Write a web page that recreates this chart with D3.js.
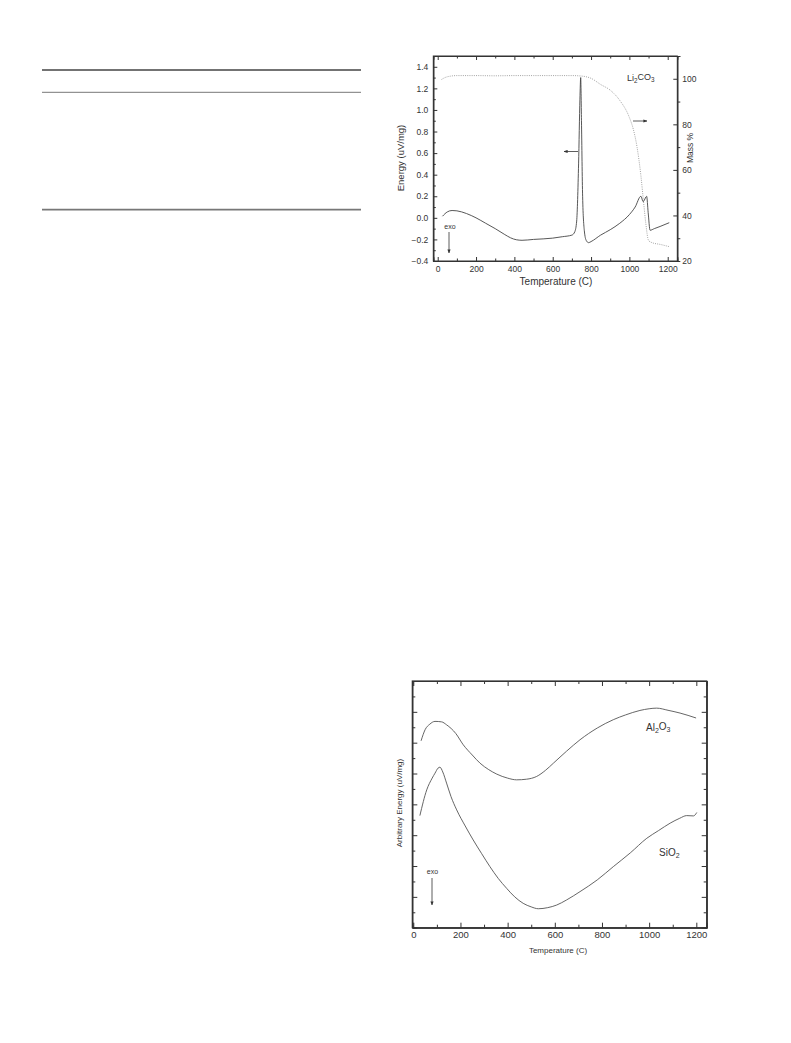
<!DOCTYPE html>
<html><head><meta charset="utf-8">
<script src="https://cdn.jsdelivr.net/npm/d3@7"></script>
<style>body{margin:0;background:#fff}svg{display:block}text{font-family:"Liberation Sans",Arial,sans-serif}</style>
</head><body>
<svg id="c" width="791" height="1043"></svg>
<script>
// ---- Top chart data (Li2CO3) ----
const energyT = [25,50,75,100,150,200,250,300,350,380,410,440,470,500,550,600,650,700,715,725,735,742,746,750,756,765,775,787,800,850,900,950,1000,1030,1060,1072,1090,1098,1108,1130,1160,1208];
const energyV = [0.015,0.055,0.068,0.065,0.04,0.0,-0.05,-0.1,-0.155,-0.185,-0.203,-0.208,-0.205,-0.2,-0.195,-0.188,-0.175,-0.16,-0.13,-0.03,0.5,1.1,1.3,0.9,0.2,-0.12,-0.21,-0.23,-0.22,-0.16,-0.11,-0.05,0.03,0.1,0.2,0.15,0.2,0.05,-0.115,-0.1,-0.08,-0.045];
const massT = [20,40,70,100,200,300,400,500,600,700,750,800,850,900,950,1000,1020,1040,1060,1075,1085,1100,1120,1160,1208];
const massV = [99.7,100.6,101.2,101.4,101.4,101.3,101.4,101.4,101.4,101.4,101.2,100.2,97.5,95,90.5,83,78,70,57.5,45,37,29,28,27.3,26.3];
const topXTicks = [0,200,400,600,800,1000,1200];
const topYTicks = [-0.4,-0.2,0.0,0.2,0.4,0.6,0.8,1.0,1.2,1.4];
const topY2Ticks = [20,40,60,80,100];

// ---- Bottom chart data ----
const alT = [33,50,70,92,120,141,180,212,250,283,320,354,400,438,480,523,560,594,650,707,780,848,900,961,1000,1032,1080,1131,1199];
const alV = [12.12,12.84,13.2,13.38,13.35,13.16,12.6,11.86,11.2,10.67,10.25,9.96,9.7,9.59,9.63,9.81,10.2,10.67,11.45,12.19,12.95,13.49,13.8,14.09,14.2,14.24,14.1,13.92,13.6];
const siT = [28,57,80,92,105,113,125,141,160,184,220,254,290,325,360,396,430,466,500,530,570,608,650,707,780,848,920,990,1040,1089,1130,1159,1188,1202];
const siV = [7.27,8.94,9.7,10.02,10.35,10.41,10.1,9.38,8.5,7.64,6.6,5.69,4.8,3.96,3.2,2.55,2.0,1.58,1.35,1.23,1.3,1.47,1.8,2.34,3.1,3.96,4.85,5.8,6.3,6.78,7.1,7.27,7.25,7.47];
const botXTicks = [0,200,400,600,800,1000,1200];

const svg = d3.select("#c");

// ---- table rules top-left ----
svg.append("line").attr("x1",42).attr("x2",361).attr("y1",70).attr("y2",70).attr("stroke","#444").attr("stroke-width",1.3);
svg.append("line").attr("x1",42).attr("x2",361).attr("y1",92.3).attr("y2",92.3).attr("stroke","#777").attr("stroke-width",1);
svg.append("line").attr("x1",42).attr("x2",361).attr("y1",209.7).attr("y2",209.7).attr("stroke","#777").attr("stroke-width",1.8);

// arrow marker
const defs = svg.append("defs");
defs.append("marker").attr("id","ah").attr("viewBox","0 0 10 10").attr("refX",9).attr("refY",5)
  .attr("markerWidth",5).attr("markerHeight",5).attr("orient","auto-start-reverse")
  .append("path").attr("d","M0,1L10,5L0,9Z").attr("fill","#333");

function sub(textSel, parts){
  parts.forEach(p=>{
    const t = textSel.append("tspan").text(p[0]);
    if(p[1]) t.attr("font-size","0.7em").attr("dy","0.25em");
    else if(p[2]) t.attr("dy","-0.25em");
  });
}

// ================= TOP CHART =================
{
  const L=433.3,R=677.3,T=56,B=261;
  const x = d3.scaleLinear().domain([-23,1250]).range([L,R]);
  const y = d3.scaleLinear().domain([-0.4,1.5]).range([B,T]);
  const y2 = d3.scaleLinear().domain([20,110]).range([B,T]);
  const g = svg.append("g");
  const fs = 8.5;
  g.append("rect").attr("x",L).attr("y",T).attr("width",R-L).attr("height",B-T).attr("fill","none").attr("stroke","#333").attr("stroke-width",1);

  const xb = d3.axisBottom(x).tickValues(topXTicks).tickSize(-4).tickPadding(5).tickFormat(d3.format("d"));
  g.append("g").attr("transform",`translate(0,${B})`).call(xb);
  const xminor = d3.range(100,1300,200);
  g.append("g").attr("transform",`translate(0,${B})`).call(d3.axisBottom(x).tickValues(xminor).tickSize(-2.5).tickFormat(""));
  g.append("g").attr("transform",`translate(0,${T})`).call(d3.axisTop(x).tickValues(topXTicks).tickSize(-4).tickFormat(""));
  g.append("g").attr("transform",`translate(0,${T})`).call(d3.axisTop(x).tickValues(xminor).tickSize(-2.5).tickFormat(""));
  g.append("g").attr("transform",`translate(${L},0)`).call(d3.axisLeft(y).tickValues(topYTicks).tickSize(-4).tickPadding(5).tickFormat(d=>d<0?"\u2212"+Math.abs(d).toFixed(1):d.toFixed(1)));
  g.append("g").attr("transform",`translate(${L},0)`).call(d3.axisLeft(y).tickValues(d3.range(-0.3,1.5,0.2)).tickSize(-2.5).tickFormat(""));
  g.append("g").attr("transform",`translate(${R},0)`).call(d3.axisRight(y2).tickValues(topY2Ticks).tickSize(-4).tickPadding(5).tickFormat(d3.format("d")));
  g.append("g").attr("transform",`translate(${R},0)`).call(d3.axisRight(y2).tickValues(d3.range(30,111,20)).tickSize(3).tickFormat(""));
  g.selectAll(".domain").attr("stroke","#333");
  g.selectAll(".tick line").attr("stroke","#333");
  g.selectAll(".tick text").attr("font-size",fs).attr("fill","#333").attr("font-family","Liberation Sans, Arial, sans-serif");

  const lineE = d3.line().x((d,i)=>x(energyT[i])).y(d=>y(d)).curve(d3.curveMonotoneX);
  g.append("path").attr("d",lineE(energyV)).attr("fill","none").attr("stroke","#444").attr("stroke-width",0.9);
  const lineM = d3.line().x((d,i)=>x(massT[i])).y(d=>y2(d)).curve(d3.curveMonotoneX);
  g.append("path").attr("d",lineM(massV)).attr("fill","none").attr("stroke","#999").attr("stroke-width",0.9).attr("stroke-dasharray","1,1.2");

  g.append("text").attr("x",556).attr("y",285).attr("text-anchor","middle").attr("font-size",10).attr("fill","#333").text("Temperature (C)");
  g.append("text").attr("transform",`translate(404,158) rotate(-90)`).attr("text-anchor","middle").attr("font-size",9.5).attr("fill","#333").text("Energy (uV/mg)");
  g.append("text").attr("transform",`translate(693,148) rotate(-90)`).attr("text-anchor","middle").attr("font-size",8.5).attr("fill","#333").text("Mass %");
  const lt = g.append("text").attr("x",627).attr("y",81).attr("font-size",9).attr("fill","#333");
  sub(lt,[["Li"],["2",1],["CO",0,1],["3",1]]);
  g.append("line").attr("x1",578).attr("x2",564).attr("y1",151.5).attr("y2",151.5).attr("stroke","#333").attr("stroke-width",0.8).attr("marker-end","url(#ah)");
  g.append("line").attr("x1",633).attr("x2",647).attr("y1",121).attr("y2",121).attr("stroke","#333").attr("stroke-width",0.8).attr("marker-end","url(#ah)");
  g.append("text").attr("x",450).attr("y",229).attr("text-anchor","middle").attr("font-size",7).attr("fill","#333").text("exo");
  g.append("line").attr("x1",449).attr("x2",449).attr("y1",232).attr("y2",253).attr("stroke","#333").attr("stroke-width",0.8).attr("marker-end","url(#ah)");
}

// ================= BOTTOM CHART =================
{
  const L=412.3,R=706.7,T=681,B=927.7;
  const x = d3.scaleLinear().domain([-4.2,1244]).range([L,R]);
  const y = d3.scaleLinear().domain([0,16]).range([B,T]);
  const g = svg.append("g");
  g.append("rect").attr("x",L).attr("y",T).attr("width",R-L).attr("height",B-T).attr("fill","none").attr("stroke","#333").attr("stroke-width",1.2);
  const xminor = d3.range(100,1300,200);
  g.append("g").attr("transform",`translate(0,${B})`).call(d3.axisBottom(x).tickValues(botXTicks).tickSize(-5).tickPadding(4).tickFormat(d3.format("d")));
  g.append("g").attr("transform",`translate(0,${B})`).call(d3.axisBottom(x).tickValues(xminor).tickSize(-3).tickFormat(""));
  g.append("g").attr("transform",`translate(0,${T})`).call(d3.axisTop(x).tickValues(botXTicks).tickSize(-5).tickFormat(""));
  g.append("g").attr("transform",`translate(0,${T})`).call(d3.axisTop(x).tickValues(xminor).tickSize(-3).tickFormat(""));
  const ymaj = d3.range(2,16,2), ymin = d3.range(1,16,2);
  g.append("g").attr("transform",`translate(${L},0)`).call(d3.axisLeft(y).tickValues(ymaj).tickSize(-5).tickFormat(""));
  g.append("g").attr("transform",`translate(${L},0)`).call(d3.axisLeft(y).tickValues(ymin).tickSize(-3).tickFormat(""));
  g.append("g").attr("transform",`translate(${R},0)`).call(d3.axisRight(y).tickValues(ymaj).tickSize(-5).tickFormat(""));
  g.append("g").attr("transform",`translate(${R},0)`).call(d3.axisRight(y).tickValues(ymin).tickSize(-3).tickFormat(""));
  g.selectAll(".domain").attr("stroke","#333");
  g.selectAll(".tick line").attr("stroke","#333");
  g.selectAll(".tick text").attr("font-size",9.5).attr("fill","#333").attr("font-family","Liberation Sans, Arial, sans-serif");

  const lineA = d3.line().x((d,i)=>x(alT[i])).y(d=>y(d)).curve(d3.curveMonotoneX);
  g.append("path").attr("d",lineA(alV)).attr("fill","none").attr("stroke","#555").attr("stroke-width",0.9);
  const lineS = d3.line().x((d,i)=>x(siT[i])).y(d=>y(d)).curve(d3.curveMonotoneX);
  g.append("path").attr("d",lineS(siV)).attr("fill","none").attr("stroke","#555").attr("stroke-width",0.9);

  g.append("text").attr("x",558).attr("y",953).attr("text-anchor","middle").attr("font-size",8).attr("fill","#333").text("Temperature (C)");
  g.append("text").attr("transform",`translate(402,803) rotate(-90)`).attr("text-anchor","middle").attr("font-size",8).attr("fill","#333").text("Arbitrary Energy (uV/mg)");
  const at = g.append("text").attr("x",646).attr("y",731).attr("font-size",10).attr("fill","#333");
  sub(at,[["Al"],["2",1],["O",0,1],["3",1]]);
  const st = g.append("text").attr("x",659).attr("y",856).attr("font-size",10).attr("fill","#333");
  sub(st,[["SiO"],["2",1]]);
  g.append("text").attr("x",432.5).attr("y",874).attr("text-anchor","middle").attr("font-size",7).attr("fill","#333").text("exo");
  g.append("line").attr("x1",432).attr("x2",432).attr("y1",878).attr("y2",905).attr("stroke","#333").attr("stroke-width",0.8).attr("marker-end","url(#ah)");
}
</script>
</body></html>
